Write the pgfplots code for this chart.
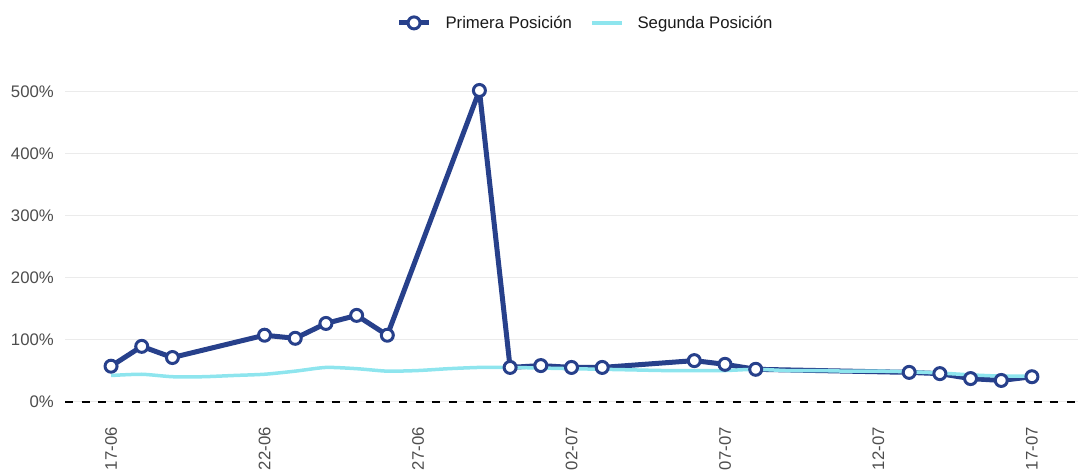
\documentclass[border=0pt]{standalone}
\usepackage{fontspec}
\setmainfont{Liberation Sans}
\usepackage{pgfplots}
\pgfplotsset{compat=1.18}
\definecolor{prim}{HTML}{27408B}
\definecolor{seg}{HTML}{8EE5EE}
\definecolor{tickgray}{HTML}{4D4D4D}
\definecolor{gridgray}{HTML}{EBEBEB}
\definecolor{txt}{HTML}{1A1A1A}
\begin{document}
\begin{tikzpicture}
\begin{axis}[
  at={(65bp,53bp)}, anchor=south west,
  scale only axis, width=1013bp, height=342bp,
  xmin=-1.5, xmax=31.5, ymin=-25, ymax=527,
  axis line style={draw=none}, major tick length=0pt,
  /pgf/number format/assume math mode=true,
  xtick={0,5,...,30},
  xticklabels={17-06,22-06,27-06,02-07,07-07,12-07,17-07},
  xticklabel style={rotate=90, anchor=east, inner sep=0pt, font=\fontsize{16.8}{20}\selectfont, text=tickgray},
  xticklabel shift=10bp,
  ytick={0,100,...,500},
  yticklabel={\pgfmathprintnumber{\tick}\%},
  yticklabel style={anchor=east, inner sep=0pt, font=\fontsize{16.8}{20}\selectfont, text=tickgray},
  yticklabel shift=11bp,
  ymajorgrids, grid style={gridgray, line width=0.9bp},
  legend columns=2,
  legend image code/.code={\draw[mark repeat=2,mark phase=2] plot coordinates {(0bp,0bp) (15bp,0bp) (30bp,0bp)};},
  legend style={draw=none, fill=none, at={(0.5,1)}, anchor=south, yshift=41bp, xshift=14bp,
    font=\fontsize{16.8}{20}\selectfont, text=txt,
    /tikz/every odd column/.append style={column sep=12bp},
    /tikz/every even column/.append style={column sep=16bp}},
]
\addlegendimage{prim, line width=5bp, mark=*, mark size=6bp, mark options={fill=white, draw=prim, line width=3bp, solid}}
\addlegendentry{Primera Posición}
\addplot[forget plot, black, dash pattern=on 8bp off 8.7bp, line width=2bp] coordinates {(-1.5,0) (31.5,0)};
\addplot[forget plot, prim, line width=5bp, line join=round] coordinates {
(0,57) (1,89) (2,71) (5,107) (6,102) (7,126) (8,139) (9,107) (12,502)
(13,55) (14,58) (15,55) (16,55) (19,66) (20,60) (21,52) (26,47) (27,45)
(28,37) (29,34) (30,40)};
\addplot[seg, line width=3.5bp, smooth, tension=0.4] coordinates {
(0,42) (1,44) (2,40) (3,40) (4,42) (5,44) (6,49) (7,55) (8,53) (9,49)
(10,50) (11,53) (12,55) (13,55) (14,54) (15,53) (16,52) (17,51) (18,50)
(19,50) (20,50) (21,52) (22,50) (23,50) (24,49) (25,49) (26,48) (27,46)
(28,43) (29,41) (30,41)};
\addlegendentry{Segunda Posición}
\addplot[forget plot, only marks, mark=*, mark size=6bp, mark options={fill=white, draw=prim, line width=3bp}] coordinates {
(0,57) (1,89) (2,71) (5,107) (6,102) (7,126) (8,139) (9,107) (12,502)
(13,55) (14,58) (15,55) (16,55) (19,66) (20,60) (21,52) (26,47) (27,45)
(28,37) (29,34) (30,40)};
\end{axis}
\pgfresetboundingbox
\useasboundingbox (0,0) rectangle (1078bp,470bp);
\end{tikzpicture}
\end{document}
